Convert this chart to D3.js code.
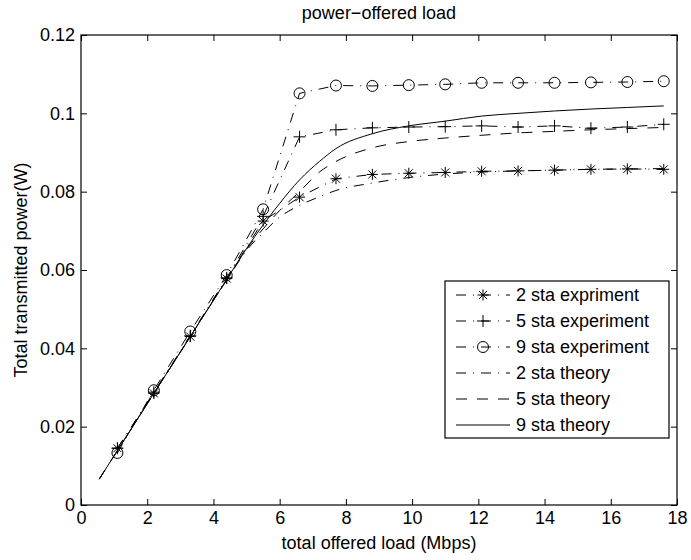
<!DOCTYPE html>
<html>
<head>
    <script src="https://d3js.org/d3.v7.min.js"></script>
    <title>power-offered load</title>
</head>
<style>
    body { margin: 0; background: white; }
    svg text { font-family: 'Liberation Sans', Arial, sans-serif; fill: black; }
</style>
<body>
<div id="chart"></div>
<script>
  // experiment points (Mbps offered load)
  var loadExp = [1.1, 2.2, 3.3, 4.4, 5.5, 6.6, 7.7, 8.8, 9.9, 11, 12.1, 13.2, 14.3, 15.4, 16.5, 17.6];
  var sta2Exp = [0.0145, 0.0285, 0.0430, 0.0578, 0.0725, 0.0786, 0.0833, 0.0844, 0.0847, 0.0849, 0.0852, 0.0853, 0.0855, 0.0857, 0.0858, 0.0857];
  var sta5Exp = [0.0145, 0.0288, 0.0432, 0.0580, 0.0737, 0.0940, 0.0958, 0.0963, 0.0965, 0.0966, 0.0968, 0.0965, 0.0968, 0.0962, 0.0965, 0.0972];
  var sta9Exp = [0.0133, 0.0293, 0.0443, 0.0587, 0.0755, 0.1051, 0.1071, 0.1070, 0.1072, 0.1074, 0.1078, 0.1078, 0.1078, 0.1079, 0.1080, 0.1082];

  // theory curves
  var loadTheory = [0.55, 1.1, 2.2, 3.3, 4.4, 5.0, 5.5, 6.0, 6.6, 7.2, 7.7, 8.8, 9.9, 11, 12.1, 13.2, 14.3, 15.4, 16.5, 17.6];
  var sta2Theory = [0.0066, 0.0139, 0.0285, 0.0430, 0.0574, 0.0650, 0.0695, 0.0735, 0.0765, 0.0787, 0.0803, 0.0822, 0.0836, 0.0845, 0.0850, 0.0853, 0.0855, 0.0857, 0.0858, 0.0859];
  var sta5Theory = [0.0066, 0.0139, 0.0285, 0.0430, 0.0575, 0.0653, 0.0705, 0.0752, 0.0800, 0.0850, 0.0877, 0.0912, 0.0928, 0.0937, 0.0944, 0.0950, 0.0954, 0.0958, 0.0961, 0.0964];
  var sta9Theory = [0.0066, 0.0139, 0.0285, 0.0430, 0.0576, 0.0655, 0.0715, 0.0770, 0.0830, 0.0877, 0.0910, 0.0948, 0.0968, 0.0980, 0.0993, 0.1000, 0.1006, 0.1011, 0.1015, 0.1019];

  var xTicks = [0, 2, 4, 6, 8, 10, 12, 14, 16, 18];
  var yTicks = [0, 0.02, 0.04, 0.06, 0.08, 0.1, 0.12];

  var W = 691, H = 560;
  var margin = {left: 81, right: 14, top: 35, bottom: 55};

  var svg = d3.select("#chart").append("svg")
      .attr("width", W)
      .attr("height", H);

  var x = d3.scaleLinear().domain([0, 18]).range([margin.left, W - margin.right]);
  var y = d3.scaleLinear().domain([0, 0.12]).range([H - margin.bottom, margin.top]);

  var DASHDOT = "10,7,1,7";
  var DASHED = "11,10";

  //AXES (matlab style: box, ticks inside on all four sides)
  var tickLen = 6;
  var fmtY = function(d) { return d === 0 ? "0" : String(d); };

  svg.append("g")
      .attr("transform", "translate(0," + y(0) + ")")
      .call(d3.axisBottom(x).tickValues(xTicks).tickSize(-tickLen).tickPadding(6))
      .call(function(g) { g.select(".domain").remove(); });
  svg.append("g")
      .attr("transform", "translate(0," + y(0.12) + ")")
      .call(d3.axisTop(x).tickValues(xTicks).tickSize(-tickLen).tickFormat(""))
      .call(function(g) { g.select(".domain").remove(); });
  svg.append("g")
      .attr("transform", "translate(" + x(0) + ",0)")
      .call(d3.axisLeft(y).tickValues(yTicks).tickSize(-tickLen).tickPadding(6).tickFormat(fmtY))
      .call(function(g) { g.select(".domain").remove(); });
  svg.append("g")
      .attr("transform", "translate(" + x(18) + ",0)")
      .call(d3.axisRight(y).tickValues(yTicks).tickSize(-tickLen).tickFormat(""))
      .call(function(g) { g.select(".domain").remove(); });

  svg.selectAll(".tick text").style("font-size", "18px");
  svg.selectAll(".tick line").attr("stroke", "black");

  svg.append("rect")
      .attr("x", x(0))
      .attr("y", y(0.12))
      .attr("width", x(18) - x(0))
      .attr("height", y(0) - y(0.12))
      .attr("fill", "none")
      .attr("stroke", "black")
      .attr("stroke-width", 1.2);

  //TEXT
  svg.append("text")
      .attr("x", (x(0) + x(18)) / 2)
      .attr("y", 19)
      .attr("text-anchor", "middle")
      .style("font-size", "18px")
      .text("power\u2212offered load");

  svg.append("text")
      .attr("x", (x(0) + x(18)) / 2)
      .attr("y", H - 11)
      .attr("text-anchor", "middle")
      .style("font-size", "18px")
      .text("total offered load (Mbps)");

  svg.append("text")
      .attr("transform", "translate(27," + ((y(0) + y(0.12)) / 2) + ") rotate(-90)")
      .attr("text-anchor", "middle")
      .style("font-size", "18px")
      .text("Total transmitted power(W)");

  //LINES
  var series = [
      {name: "2 sta expriment",  xs: loadExp, ys: sta2Exp, dash: DASHDOT, marker: "star"},
      {name: "5 sta experiment", xs: loadExp, ys: sta5Exp, dash: DASHDOT, marker: "plus"},
      {name: "9 sta experiment", xs: loadExp, ys: sta9Exp, dash: DASHDOT, marker: "circle"},
      {name: "2 sta theory", xs: loadTheory, ys: sta2Theory, dash: DASHDOT, marker: null, smooth: true},
      {name: "5 sta theory", xs: loadTheory, ys: sta5Theory, dash: DASHED, marker: null, smooth: true},
      {name: "9 sta theory", xs: loadTheory, ys: sta9Theory, dash: null, marker: null, smooth: true}
  ];

  var plot = svg.append("g");

  function drawMarker(g, type, cx, cy) {
      if (type === "circle") {
          g.append("circle").attr("cx", cx).attr("cy", cy).attr("r", 5.5)
              .attr("fill", "none").attr("stroke", "black");
      } else if (type === "plus") {
          var s = 6;
          g.append("path").attr("d", "M" + (cx - s) + "," + cy + "H" + (cx + s) + "M" + cx + "," + (cy - s) + "V" + (cy + s))
              .attr("stroke", "black");
      } else if (type === "star") {
          var r = 5.5, d = 4;
          g.append("path").attr("d",
              "M" + (cx - r) + "," + cy + "H" + (cx + r) +
              "M" + cx + "," + (cy - r) + "V" + (cy + r) +
              "M" + (cx - d) + "," + (cy - d) + "L" + (cx + d) + "," + (cy + d) +
              "M" + (cx - d) + "," + (cy + d) + "L" + (cx + d) + "," + (cy - d))
              .attr("stroke", "black");
      }
  }

  series.forEach(function(s) {
      var pts = s.xs.map(function(v, i) { return [v, s.ys[i]]; });
      var line = d3.line()
          .x(function(d) { return x(d[0]); })
          .y(function(d) { return y(d[1]); })
          .curve(s.smooth ? d3.curveMonotoneX : d3.curveLinear);
      plot.append("path")
          .attr("d", line(pts))
          .attr("fill", "none")
          .attr("stroke", "black")
          .attr("stroke-width", 1)
          .attr("stroke-dasharray", s.dash);
      if (s.marker) {
          pts.forEach(function(p) { drawMarker(plot, s.marker, x(p[0]), y(p[1])); });
      }
  });

  //LEGEND
  var lg = svg.append("g");
  var lgLeft = 445, lgTop = 281, lgRight = 669, rowH = 26, firstRow = 295;
  lg.append("rect")
      .attr("x", lgLeft).attr("y", lgTop)
      .attr("width", lgRight - lgLeft).attr("height", 157)
      .attr("fill", "white").attr("stroke", "black").attr("stroke-width", 1.2);

  series.forEach(function(s, i) {
      var yy = firstRow + i * rowH;
      lg.append("line")
          .attr("x1", 456).attr("x2", 510)
          .attr("y1", yy).attr("y2", yy)
          .attr("stroke", "black")
          .attr("stroke-dasharray", s.dash);
      if (s.marker) drawMarker(lg, s.marker, 483, yy);
      lg.append("text")
          .attr("x", 516).attr("y", yy)
          .attr("dy", "0.35em")
          .style("font-size", "18px")
          .text(s.name);
  });
</script>
</body>
</html>
